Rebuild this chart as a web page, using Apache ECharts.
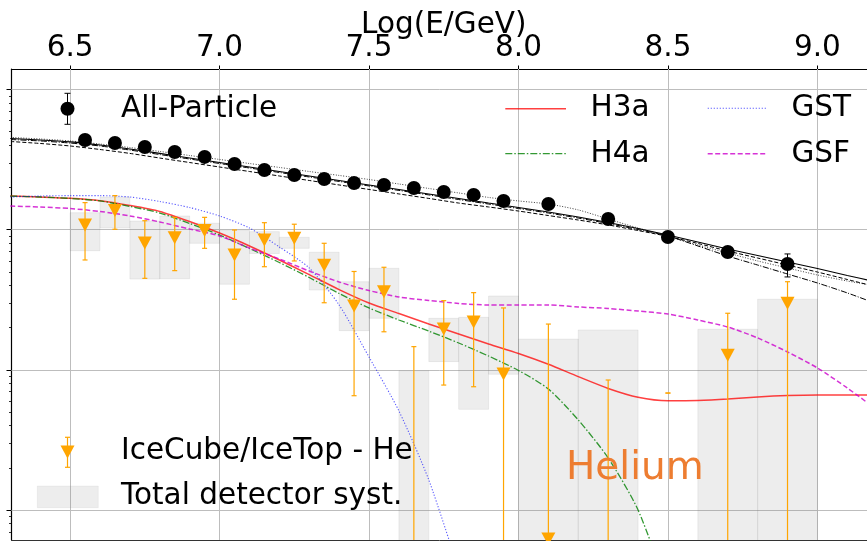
<!DOCTYPE html>
<html>
<head>
<meta charset="utf-8">
<script src="https://cdn.jsdelivr.net/npm/echarts@6/dist/echarts.min.js"></script>
<style>
  html, body { margin: 0; padding: 0; background: #fff; }
  #chart { width: 867px; height: 541px; }
</style>
</head>
<body>
<div id="chart"></div>
<script>
// ---------------------------------------------------------------
// Data: x = log10(E/GeV), y = log10 of the scaled flux
// ---------------------------------------------------------------

// All-particle spectrum
const apEnergy = [6.55, 6.65, 6.75, 6.85, 6.95, 7.05, 7.15, 7.25, 7.35, 7.45,
                  7.55, 7.65, 7.75, 7.85, 7.95, 8.1, 8.3, 8.5, 8.7, 8.9];
const apFlux = [3.640, 3.618, 3.590, 3.554, 3.519, 3.469, 3.426, 3.390, 3.362, 3.333,
                3.319, 3.297, 3.269, 3.248, 3.205, 3.183, 3.076, 2.948, 2.841, 2.755];
const apFluxLow = [3.630, 3.608, 3.580, 3.544, 3.509, 3.459, 3.416, 3.380, 3.352, 3.323,
                   3.309, 3.287, 3.259, 3.238, 3.195, 3.173, 3.062, 2.930, 2.815, 2.663];
const apFluxHigh = [3.650, 3.628, 3.600, 3.564, 3.529, 3.479, 3.436, 3.400, 3.372, 3.343,
                    3.329, 3.307, 3.279, 3.258, 3.215, 3.193, 3.089, 2.964, 2.864, 2.827];

// IceCube/IceTop helium spectrum (null = point below the plotted range)
const heEnergy = [6.55, 6.65, 6.75, 6.85, 6.95, 7.05, 7.15, 7.25, 7.35, 7.45,
                  7.55, 7.65, 7.75, 7.85, 7.95, 8.1, 8.3, 8.5, 8.7, 8.9];
const heBinWidth = [0.1, 0.1, 0.1, 0.1, 0.1, 0.1, 0.1, 0.1, 0.1, 0.1,
                    0.1, 0.1, 0.1, 0.1, 0.1, 0.2, 0.2, 0.2, 0.2, 0.2];
const heFlux = [3.034, 3.136, 2.905, 2.943, 2.994, 2.820, 2.927, 2.939, 2.746, 2.456,
                2.558, null, 2.292, 2.342, 1.971, 0.795, null, null, 2.104, 2.475];
// statistical error band (null lower edge = reaches below the plotted range)
const heErrHigh = [3.193, 3.243, 3.064, 3.088, 3.088, 2.998, 3.050, 3.039, 2.903, 2.702,
                   2.732, 2.166, 2.494, 2.551, 2.442, 2.327, 1.928, 1.835, 2.404, 2.629];
const heErrLow = [2.784, 3.003, 2.653, 2.708, 2.867, 2.504, 2.736, 2.777, 2.479, 1.816,
                  2.272, null, 1.892, 1.880, null, null, null, 1.835, null, null];
// total detector systematics
const heSystHigh = [3.121, 3.233, 3.062, 3.098, 3.046, 2.998, 2.986, 2.946, 2.839, 2.629,
                    2.725, 1.994, 2.368, 2.375, 2.527, 2.220, 2.285, null, 2.290, 2.504];
const heSystLow = [2.850, 3.012, 2.648, 2.650, 2.903, 2.611, 2.830, 2.867, 2.570, 2.280,
                   2.368, null, 2.059, 1.719, 1.969, null, null, null, null, null];

// Model predictions, sampled on a common energy grid
const modelEnergy = [6.3, 6.4, 6.5, 6.6, 6.7, 6.8, 6.9, 7.0, 7.1, 7.2,
                     7.3, 7.4, 7.5, 7.6, 7.7, 7.8, 7.9, 8.0, 8.1, 8.2,
                     8.3, 8.4, 8.5, 8.6, 8.7, 8.8, 8.9, 9.0, 9.1, 9.2];
// helium
const heH3a = [3.240, 3.233, 3.224, 3.207, 3.173, 3.130, 3.058, 2.976, 2.884, 2.784,
               2.680, 2.573, 2.477, 2.402, 2.327, 2.256, 2.185, 2.117, 2.040, 1.952,
               1.868, 1.805, 1.780, 1.782, 1.792, 1.807, 1.817, 1.821, 1.821, 1.821];
const heH4a = [3.240, 3.233, 3.223, 3.205, 3.166, 3.119, 3.044, 2.962, 2.866, 2.766,
               2.659, 2.545, 2.442, 2.356, 2.277, 2.192, 2.099, 1.996, 1.864, 1.643,
               1.372, 1.001, 0.430];
const heGST = [3.233, 3.240, 3.243, 3.243, 3.233, 3.201, 3.158, 3.098, 3.012, 2.877,
               2.727, 2.463, 2.092, 1.707, 1.215, 0.573];
const heGSF = [3.169, 3.162, 3.151, 3.130, 3.098, 3.055, 3.005, 2.955, 2.869, 2.791,
               2.705, 2.627, 2.566, 2.520, 2.495, 2.474, 2.463, 2.463, 2.463, 2.449,
               2.438, 2.420, 2.399, 2.356, 2.306, 2.228, 2.128, 2.014, 1.871, 1.714];
// all-particle
const apH3a = [3.650, 3.640, 3.626, 3.604, 3.576, 3.544, 3.511, 3.479, 3.447, 3.415,
               3.383, 3.351, 3.319, 3.287, 3.255, 3.223, 3.190, 3.158, 3.126, 3.091,
               3.051, 3.009, 2.962, 2.912, 2.862, 2.816, 2.770, 2.723, 2.673, 2.627];
const apH4a = [3.643, 3.633, 3.618, 3.597, 3.568, 3.536, 3.504, 3.472, 3.440, 3.408,
               3.376, 3.344, 3.312, 3.280, 3.248, 3.215, 3.183, 3.151, 3.119, 3.083,
               3.044, 3.001, 2.955, 2.884, 2.812, 2.748, 2.684, 2.620, 2.549, 2.470];
const apGST = [3.658, 3.647, 3.633, 3.611, 3.586, 3.558, 3.529, 3.501, 3.472, 3.444,
               3.415, 3.387, 3.358, 3.326, 3.294, 3.262, 3.230, 3.205, 3.183, 3.141,
               3.076, 3.012, 2.952, 2.891, 2.834, 2.777, 2.727, 2.677, 2.634, 2.598];
const apGSF = [3.629, 3.615, 3.597, 3.572, 3.544, 3.511, 3.479, 3.447, 3.415, 3.383,
               3.351, 3.319, 3.287, 3.255, 3.223, 3.190, 3.162, 3.133, 3.101, 3.069,
               3.034, 2.994, 2.952, 2.902, 2.848, 2.798, 2.748, 2.698, 2.645, 2.591];

// Axis ticks
const xTicks = [6.5, 7.0, 7.5, 8.0, 8.5, 9.0];
const yDecades = [1, 2, 3, 4];

// ---------------------------------------------------------------
const xMin = 6.304, xMax = 9.196;
const yMin = 0.787, yMax = 4.146;
const below = yMin - 0.5;           // anything that runs off the bottom edge
const FONT = '"DejaVu Sans", "Liberation Sans", sans-serif';
const ORANGE = '#FFA500';

const yMinor = [];
for (let d = 0; d <= 4; d++) {
  for (let k = 2; k <= 9; k++) {
    const v = d + Math.log10(k);
    if (v > yMin && v < yMax) yMinor.push(v);
  }
}

const pairs = (xs, ys) => ys.map((y, i) => [xs[i], y]);

function errorBars(color, capHalf, width) {
  return function (params, api) {
    const x = api.value(0);
    const bot = api.coord([x, api.value(1)]);
    const top = api.coord([x, api.value(2)]);
    const style = { stroke: color, lineWidth: width };
    return {
      type: 'group',
      children: [
        { type: 'line', shape: { x1: top[0], y1: top[1], x2: bot[0], y2: bot[1] }, style },
        { type: 'line', shape: { x1: top[0] - capHalf, y1: top[1], x2: top[0] + capHalf, y2: top[1] }, style },
        { type: 'line', shape: { x1: bot[0] - capHalf, y1: bot[1], x2: bot[0] + capHalf, y2: bot[1] }, style }
      ]
    };
  };
}

function systBox(params, api) {
  const x = api.value(0), w = api.value(1);
  const p0 = api.coord([x - w / 2, api.value(2)]);
  const p1 = api.coord([x + w / 2, api.value(3)]);
  return {
    type: 'rect',
    shape: { x: p0[0], y: p0[1], width: p1[0] - p0[0], height: p1[1] - p0[1] },
    style: { fill: 'rgba(128,128,128,0.14)', stroke: 'rgba(128,128,128,0.12)', lineWidth: 1 }
  };
}

const boxData = [];
heEnergy.forEach((e, i) => {
  if (heSystHigh[i] !== null) {
    boxData.push([e, heBinWidth[i], heSystHigh[i], heSystLow[i] === null ? below : heSystLow[i]]);
  }
});
const heErrData = heEnergy.map((e, i) => [e, heErrLow[i] === null ? below : heErrLow[i], heErrHigh[i]]);
const apErrData = apEnergy.map((e, i) => [e, apFluxLow[i], apFluxHigh[i]]);
const heMarkers = heEnergy.map((e, i) => [e, heFlux[i]]).filter(p => p[1] !== null);

function modelLine(name, ys, color, width, dash, z) {
  return {
    name, type: 'line', data: pairs(modelEnergy, ys),
    showSymbol: false, smooth: 0.25, clip: true, z, silent: true,
    lineStyle: { color, width, type: dash || 'solid' }
  };
}

const chart = echarts.init(document.getElementById('chart'), null, { renderer: 'canvas' });

const legendText = (text, x, yMid) => ({
  type: 'text', silent: true, z: 100,
  style: { text, x, y: yMid, font: '29.5px ' + FONT, fill: '#000', verticalAlign: 'middle', align: 'left' }
});
const seg = (x1, y1, x2, y2, stroke, lineWidth, lineDash) => ({
  type: 'line', silent: true, z: 100,
  shape: { x1, y1, x2, y2 },
  style: { stroke, lineWidth, lineDash: lineDash || null }
});

chart.setOption({
  animation: false,
  backgroundColor: '#fff',
  textStyle: { fontFamily: FONT },
  grid: { left: 11.5, right: -9, top: 69, bottom: 1, containLabel: false, outerBoundsMode: 'none' },
  xAxis: [
    {
      type: 'value', position: 'top', min: xMin, max: xMax,
      name: 'Log(E/GeV)', nameLocation: 'middle', nameGap: 29, nameMoveOverlap: false,
      nameTextStyle: { fontSize: 29.5, color: '#000', fontFamily: FONT },
      axisLine: { show: true, onZero: false, lineStyle: { color: '#000', width: 1.2 } },
      axisTick: { show: true, inside: false, length: 3.5, customValues: xTicks, lineStyle: { color: '#000', width: 1 } },
      axisLabel: { show: true, customValues: xTicks, margin: 5.5, fontSize: 29.5, color: '#000', fontFamily: FONT,
                   formatter: v => v.toFixed(1) },
      splitLine: { show: false }
    },
    {
      type: 'value', position: 'bottom', min: xMin, max: xMax,
      axisLine: { show: true, onZero: false, lineStyle: { color: '#333', width: 1 } },
      axisTick: { show: false }, axisLabel: { show: false }, splitLine: { show: false }
    }
  ],
  yAxis: [
    {
      type: 'value', position: 'left', min: yMin, max: yMax,
      axisLine: { show: true, onZero: false, lineStyle: { color: '#000', width: 1.2 } },
      axisTick: { show: true, inside: false, length: 5, customValues: yDecades, lineStyle: { color: '#000', width: 1 } },
      axisLabel: { show: false }, splitLine: { show: false }
    },
    {
      type: 'value', position: 'left', min: yMin, max: yMax,
      axisLine: { show: false },
      axisTick: { show: true, inside: false, length: 2.5, customValues: yMinor, lineStyle: { color: '#000', width: 0.8 } },
      axisLabel: { show: false }, splitLine: { show: false }
    }
  ],
  series: [
    // grid lines
    {
      type: 'line', data: [], silent: true, z: 1,
      markLine: {
        silent: true, symbol: ['none', 'none'], z: 1, animation: false,
        label: { show: false },
        lineStyle: { color: '#bdbdbd', width: 1, type: 'solid' },
        emphasis: { disabled: true },
        data: xTicks.map(v => ({ xAxis: v })).concat(yDecades.map(v => ({ yAxis: v })))
      }
    },
    // detector systematics
    {
      type: 'custom', name: 'Total detector syst.', data: boxData, renderItem: systBox,
      clip: true, z: 2, silent: true, encode: { x: 0, y: [2, 3] }
    },
    // helium models
    modelLine('H3a', heH3a, 'rgba(255,0,0,0.75)', 1.5, null, 3),
    modelLine('H4a', heH4a, 'rgba(0,128,0,0.8)', 1.3, [7, 2, 1.5, 2], 3),
    modelLine('GST', heGST, 'rgba(0,0,255,0.65)', 1.1, [1.2, 1.8], 3),
    modelLine('GSF', heGSF, 'rgba(204,0,204,0.8)', 1.5, [5, 2.5], 3),
    // all-particle models
    modelLine('H3a all', apH3a, '#000', 1.1, null, 3),
    modelLine('H4a all', apH4a, '#000', 1, [6, 1.6, 1, 1.6], 3),
    modelLine('GST all', apGST, 'rgba(0,0,0,0.75)', 1, [1, 1.6], 3),
    modelLine('GSF all', apGSF, '#000', 1, [4, 2], 3),
    // helium data
    {
      type: 'custom', name: 'He errors', data: heErrData, renderItem: errorBars(ORANGE, 2.5, 1.2),
      clip: true, z: 4, silent: true, encode: { x: 0, y: [1, 2] }
    },
    {
      type: 'scatter', name: 'IceCube/IceTop - He', data: heMarkers,
      symbol: 'triangle', symbolRotate: 180, symbolSize: [14, 13],
      itemStyle: { color: ORANGE, opacity: 1 }, clip: true, z: 5, silent: true
    },
    // all-particle data
    {
      type: 'custom', name: 'All errors', data: apErrData, renderItem: errorBars('#000', 3, 1),
      clip: true, z: 6, silent: true, encode: { x: 0, y: [1, 2] }
    },
    {
      type: 'scatter', name: 'All-Particle', data: pairs(apEnergy, apFlux),
      symbol: 'circle', symbolSize: 14, itemStyle: { color: '#000', opacity: 1 }, clip: true, z: 7, silent: true
    }
  ],
  graphic: [
    // All-Particle key
    seg(67.5, 93.3, 67.5, 124.3, '#000', 1),
    seg(64.5, 93.3, 70.5, 93.3, '#000', 1),
    seg(64.5, 124.3, 70.5, 124.3, '#000', 1),
    { type: 'circle', silent: true, z: 100, shape: { cx: 67.5, cy: 108.7, r: 7 }, style: { fill: '#000' } },
    legendText('All-Particle', 121, 109.1),
    // model keys
    seg(505.3, 108.7, 566, 108.7, 'rgba(255,0,0,0.75)', 1.5),
    legendText('H3a', 590.5, 108.8),
    seg(505.3, 153.7, 566, 153.7, 'rgba(0,128,0,0.8)', 1.3, [7, 2, 1.5, 2]),
    legendText('H4a', 590.5, 154.1),
    seg(707.7, 108.3, 766.7, 108.3, 'rgba(0,0,255,0.65)', 1.1, [1.2, 1.8]),
    legendText('GST', 791.5, 108.8),
    seg(707.7, 153.7, 766.7, 153.7, 'rgba(204,0,204,0.8)', 1.5, [5, 2.5]),
    legendText('GSF', 791.5, 154.1),
    // helium keys
    seg(67.5, 437.3, 67.5, 467.3, ORANGE, 1.2),
    seg(65, 437.3, 70, 437.3, ORANGE, 1.2),
    seg(65, 467.3, 70, 467.3, ORANGE, 1.2),
    { type: 'polygon', silent: true, z: 100, shape: { points: [[60.5, 445.5], [74.5, 445.5], [67.5, 458.5]] }, style: { fill: ORANGE } },
    legendText('IceCube/IceTop - He', 121, 451.5),
    { type: 'rect', silent: true, z: 100, shape: { x: 37.3, y: 486, width: 61, height: 21.7 },
      style: { fill: 'rgba(128,128,128,0.14)', stroke: 'rgba(128,128,128,0.08)', lineWidth: 1 } },
    legendText('Total detector syst.', 121, 496.5),
    // panel label
    { type: 'text', silent: true, z: 100,
      style: { text: 'Helium', x: 566, y: 469, font: '39px ' + FONT, fill: '#ED7D31', verticalAlign: 'middle', align: 'left' } }
  ]
});
</script>
</body>
</html>
